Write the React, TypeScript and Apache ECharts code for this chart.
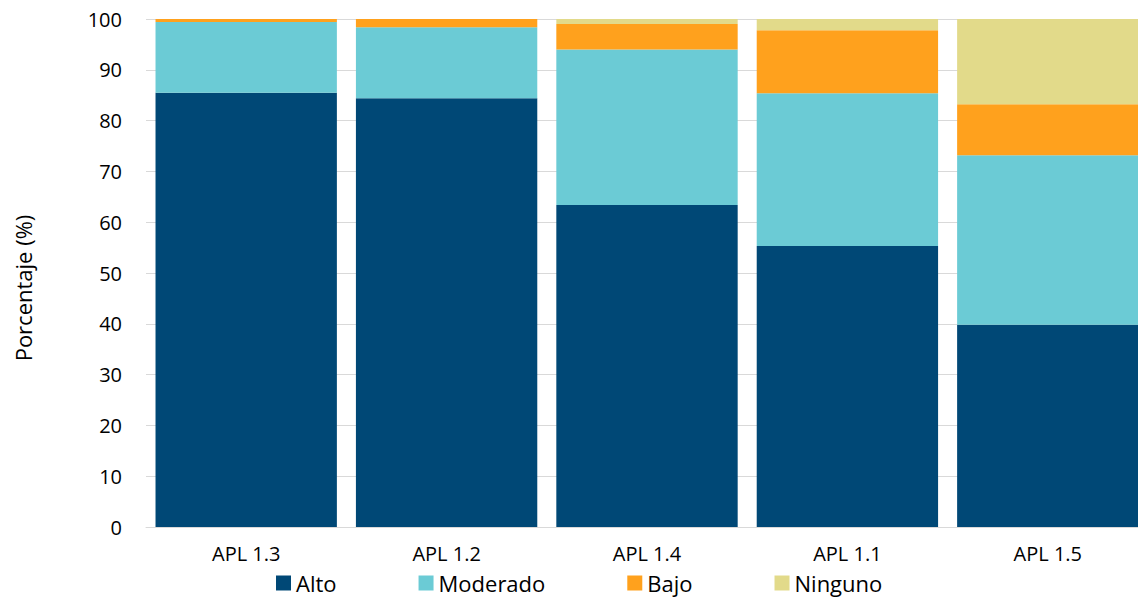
import React, { useEffect, useRef } from "react";
import * as echarts from "echarts";

const categories = ["APL 1.3", "APL 1.2", "APL 1.4", "APL 1.1", "APL 1.5"];
const alto = [85.5, 84.4, 63.4, 55.3, 39.8];
const moderado = [13.9, 14.0, 30.6, 30.1, 33.4];
const bajo = [0.6, 1.6, 5.0, 12.4, 10.0];
const ninguno = [0.0, 0.0, 1.0, 2.2, 16.8];
const yTicks = { min: 0, max: 100, interval: 10 };
const yTitle = "Porcentaje (%)";

const seriesNames = ["Alto", "Moderado", "Bajo", "Ninguno"];
const seriesColors = ["#004876", "#6BCBD5", "#FFA11D", "#E2DA8A"];
const FONT = "Open Sans";

export default function App() {
  const ref = useRef<HTMLDivElement>(null);
  useEffect(() => {
    if (!ref.current) return;
    const chart = echarts.init(ref.current, undefined, { renderer: "svg" });
    const data = [alto, moderado, bajo, ninguno];
    chart.setOption({
      animation: false,
      textStyle: { fontFamily: FONT },
      grid: { left: 146, right: 0, top: 19, bottom: 72, containLabel: false },
      graphic: [
        {
          type: "text",
          x: 23,
          y: 288,
          rotation: Math.PI / 2,
          style: {
            text: yTitle,
            fontFamily: FONT,
            fontSize: 22,
            fill: "#000",
            align: "center",
            verticalAlign: "middle",
          },
        },
      ],
      legend: {
        data: seriesNames,
        left: 271,
        top: 567,
        padding: [5, 5, 0, 5],
        itemWidth: 15,
        itemHeight: 15,
        itemGap: 82,
        icon: "rect",
        textStyle: { fontFamily: FONT, fontSize: 22, lineHeight: 18, color: "#000" },
      },
      xAxis: {
        type: "category",
        data: categories,
        axisLine: { lineStyle: { color: "#d9d9d9", width: 1 } },
        axisTick: { show: false },
        axisLabel: { fontFamily: FONT, fontSize: 20, lineHeight: 18, color: "#000", margin: 17 },
      },
      yAxis: {
        type: "value",
        min: yTicks.min,
        max: yTicks.max,
        interval: yTicks.interval,
        axisLine: { show: false },
        axisTick: { show: false },
        splitLine: { lineStyle: { color: "#d9d9d9", width: 1 } },
        axisLabel: { fontFamily: FONT, fontSize: 20, color: "#000", margin: 24 },
      },
      series: seriesNames.map((name, i) => ({
        name,
        type: "bar",
        stack: "total",
        barWidth: "90.5%",
        itemStyle: { color: seriesColors[i] },
        data: data[i],
      })),
    });
    return () => chart.dispose();
  }, []);
  return (
    <div style={{ width: 1138, height: 599, position: "absolute", left: 0, top: 0, overflow: "hidden" }}>
      <div ref={ref} style={{ width: 1148, height: 599 }} />
    </div>
  );
}
